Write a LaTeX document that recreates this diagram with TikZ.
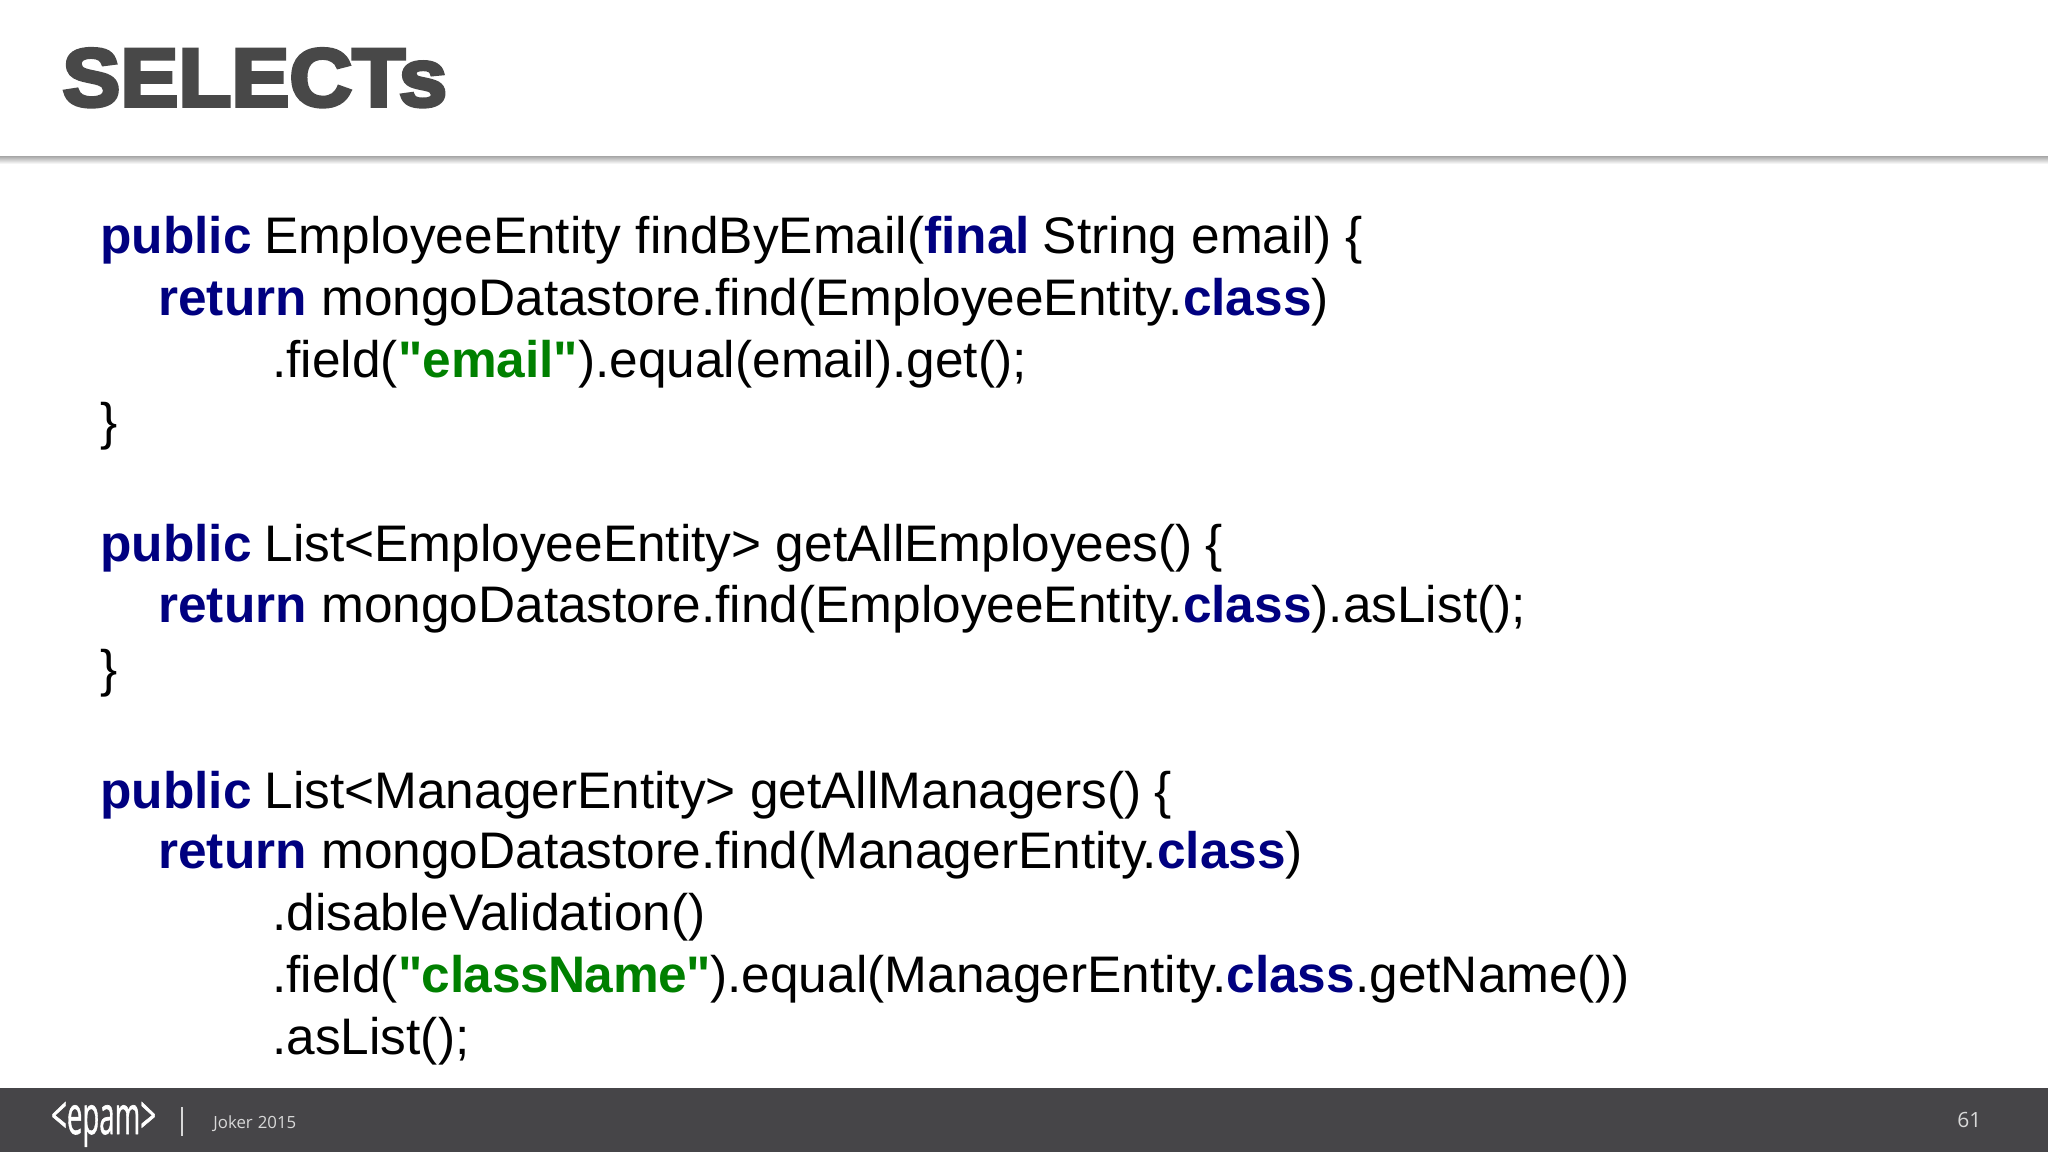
\documentclass[tikz,border=0pt]{standalone}
\usepackage{fontspec}
\setmainfont[Ligatures=TeXOff]{Liberation Sans}
\newfontfamily\titlefont[FakeBold=4.5,FakeStretch=1.06]{Liberation Sans Bold}
\newfontfamily\footfont{Open Sans}
\newfontfamily\logofont[FakeBold=1.2]{Open Sans}
\definecolor{keyblue}{HTML}{000080}
\definecolor{strgreen}{HTML}{008000}
\definecolor{titlegray}{HTML}{484848}
\definecolor{footgray}{HTML}{464548}
\definecolor{footline}{HTML}{D8D8D8}
\newcommand{\kw}[1]{\textcolor{keyblue}{\textbf{#1}}}
\newcommand{\str}[1]{\textcolor{strgreen}{\textbf{#1}}}
\newcommand{\gap}{\hspace{0.25em}}
\tikzset{codeline/.style={anchor=base west,inner sep=0pt,font=\fontsize{25.7pt}{28pt}\selectfont},
footlabel/.style={anchor=base west,inner sep=0pt,text=footline,font=\footfont\fontsize{8.4pt}{10pt}\selectfont}}
\begin{document}
\begin{tikzpicture}[x=0.5pt,y=-0.5pt]
\useasboundingbox (0,0) rectangle (2048,1152);
\fill[white] (0,0) rectangle (2048,1152);
\shade[top color=black!35,bottom color=white] (0,156) rectangle (2048,164);
\fill[footgray] (0,1088) rectangle (2048,1152);
\node[anchor=base west,inner sep=0pt,text=titlegray,font=\titlefont\fontsize{41pt}{45pt}\selectfont] (title) at (62,106) {SELECTs};
\node[codeline] (l1) at (100,253) {\kw{public}\gap EmployeeEntity findByEmail(\kw{final}\gap String email) \{};
\node[codeline] (l2) at (158,315) {\kw{return} mongoDatastore.find(EmployeeEntity.\kw{class})};
\node[codeline] (l3) at (272,377) {.field(\str{"email"}).equal(email).get();};
\node[codeline] (l4) at (100,439) {\}};
\node[codeline] (l5) at (100,561) {\kw{public}\gap List<EmployeeEntity> getAllEmployees()\gap\{};
\node[codeline] (l6) at (158,622) {\kw{return} mongoDatastore.find(EmployeeEntity.\kw{class}).asList();};
\node[codeline] (l7) at (100,686) {\}};
\node[codeline] (l8) at (100,808) {\kw{public}\gap List<ManagerEntity> getAllManagers()\gap\{};
\node[codeline] (l9) at (158,868) {\kw{return} mongoDatastore.find(ManagerEntity.\kw{class})};
\node[codeline] (l10) at (272,930) {.disableValidation()};
\node[codeline] (l11) at (272,992) {.field(\str{\addfontfeature{LetterSpace=-0.9}"className"}).equal(ManagerEntity.\kw{class}.getName())};
\node[codeline] (l12) at (272,1054) {.asList();};
\node[anchor=base west,inner sep=0pt,text=white,xscale=0.52,font=\logofont\fontsize{26.5pt}{30pt}\selectfont] (logo) at (51,1134) {<epam>};
\draw[footline,line width=0.8pt] (182,1107) -- (182,1136);
\node[footlabel] (event) at (213,1128) {Joker\hspace{0.3em}2015};
\node[footlabel,font=\footfont\fontsize{10.5pt}{12pt}\selectfont] (page) at (1957,1127) {61};
\end{tikzpicture}
\end{document}
